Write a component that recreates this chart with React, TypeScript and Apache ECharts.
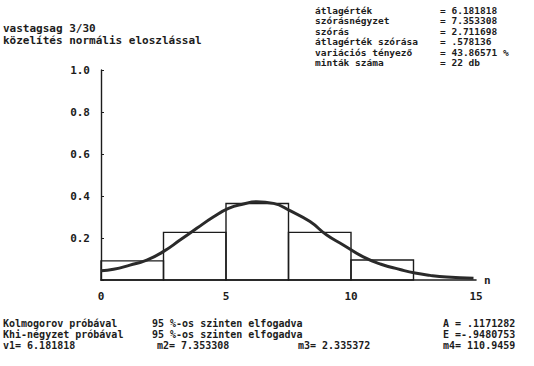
import React, { useEffect, useRef } from "react";
import * as echarts from "echarts";

const binStarts = [0, 2.5, 5, 7.5, 10];
const binEnds = [2.5, 5, 7.5, 10, 12.5];
const binFreq = [0.091, 0.227, 0.364, 0.227, 0.095];

const curveX = [0, 0.5, 1.16, 1.83, 2.49, 3.16, 3.83, 4.49, 5.1, 5.7, 6.23, 6.9, 7.56, 8.36, 9.03, 9.69, 10.49, 11.2, 11.96, 12.56, 13.16, 13.83, 14.9];
const curveY = [0.044, 0.051, 0.071, 0.095, 0.135, 0.19, 0.246, 0.3, 0.341, 0.362, 0.373, 0.365, 0.33, 0.278, 0.214, 0.167, 0.11, 0.075, 0.05, 0.033, 0.022, 0.014, 0.008];

const titleLines = ["vastagsag 3/30", "közelítés normális eloszlással"];
const statLabels = ["átlagérték", "szórásnégyzet", "szórás", "átlagérték szórása", "variációs tényező", "minták száma"];
const statValues = ["= 6.181818", "= 7.353308", "= 2.711698", "= .578136", "= 43.86571 %", "= 22 db"];
const testLabels = ["Kolmogorov próbával", "Khi-négyzet próbával"];
const testResult = "95 %-os szinten elfogadva";
const moments = ["v1= 6.181818", "m2= 7.353308", "m3= 2.335372", "m4= 110.9459"];
const shapeStats = ["A = .1171282", "E =-.9480753"];

const FONT = "DejaVu Sans Mono";
const INK = "#1c1c1c";

function txt(text: string, x: number, y: number, size = 11) {
  return {
    type: "text",
    x,
    y,
    style: {
      text,
      fill: INK,
      font: `bold ${size}px "${FONT}"`,
      textVerticalAlign: "middle",
      verticalAlign: "middle",
    },
  };
}

export default function App() {
  const ref = useRef<HTMLDivElement>(null);
  useEffect(() => {
    if (!ref.current) return;
    const chart = echarts.init(ref.current, null, { renderer: "svg" });
    const statY = [10, 20.5, 31, 41.5, 52, 62.5];
    const graphics: any[] = [];
    graphics.push(txt(titleLines[0], 3, 28));
    graphics.push(txt(titleLines[1], 3, 40));
    statLabels.forEach((l, i) => {
      graphics.push(txt(l, 315, statY[i], 9.5));
      graphics.push(txt(statValues[i], 440, statY[i], 9.5));
    });
    const bs = 10;
    graphics.push(txt(testLabels[0], 3, 323, bs));
    graphics.push(txt(testResult, 152, 323, bs));
    graphics.push(txt(testLabels[1], 3, 334, bs));
    graphics.push(txt(testResult, 152, 334, bs));
    graphics.push(txt(moments[0], 3, 345, bs));
    graphics.push(txt(moments[1], 157, 345, bs));
    graphics.push(txt(moments[2], 298, 345, bs));
    graphics.push(txt(moments[3], 443, 345, bs));
    graphics.push(txt(shapeStats[0], 443, 323, bs));
    graphics.push(txt(shapeStats[1], 443, 334, bs));

    chart.setOption({
      animation: false,
      backgroundColor: "#ffffff",
      grid: { left: 101, right: 58, top: 70, bottom: 86 },
      xAxis: {
        type: "value",
        min: 0,
        max: 15,
        interval: 5,
        name: "n",
        nameLocation: "end",
        nameGap: 8,
        nameTextStyle: { color: INK, fontFamily: FONT, fontWeight: "bold", fontSize: 11, verticalAlign: "middle" },
        axisLine: { lineStyle: { color: INK, width: 1.6 } },
        axisTick: { show: false },
        splitLine: { show: false },
        axisLabel: { color: INK, fontFamily: FONT, fontWeight: "bold", fontSize: 11, margin: 11 },
      },
      yAxis: {
        type: "value",
        min: 0,
        max: 1,
        interval: 0.2,
        axisLine: { show: true, lineStyle: { color: INK, width: 1.4 } },
        axisTick: { show: true, inside: true, length: 3, lineStyle: { color: INK } },
        splitLine: { show: false },
        axisLabel: {
          color: INK,
          fontFamily: FONT,
          fontWeight: "bold",
          fontSize: 11,
          margin: 11,
          formatter: (v: number) => (v === 0 ? "" : v.toFixed(1)),
        },
      },
      graphic: graphics,
      series: [
        {
          type: "custom",
          renderItem: (params: any, api: any) => {
            const s = api.coord([api.value(0), api.value(2)]);
            const e = api.coord([api.value(1), 0]);
            return {
              type: "rect",
              shape: { x: s[0], y: s[1], width: e[0] - s[0], height: e[1] - s[1] },
              style: { fill: "none", stroke: INK, lineWidth: 1.4 },
            };
          },
          encode: { x: [0, 1], y: 2 },
          data: binStarts.map((b, i) => [b, binEnds[i], binFreq[i]]),
          z: 2,
        },
        {
          type: "line",
          smooth: true,
          showSymbol: false,
          symbol: "none",
          lineStyle: { color: "#2a2a2a", width: 3 },
          data: curveX.map((x, i) => [x, curveY[i]]),
          z: 3,
        },
      ],
    });
    return () => chart.dispose();
  }, []);
  return <div ref={ref} style={{ position: "fixed", left: 0, top: 0, width: 534, height: 366, background: "#fff" }} />;
}
